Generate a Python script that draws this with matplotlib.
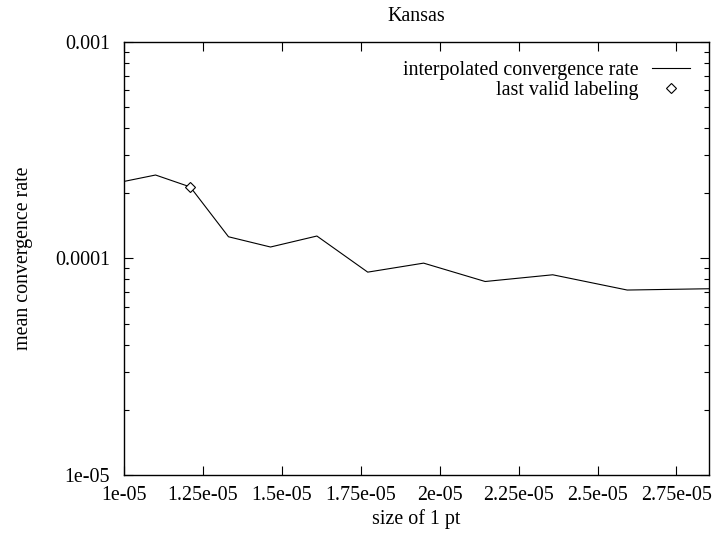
import matplotlib
matplotlib.use("Agg")
import matplotlib.pyplot as plt
from matplotlib.ticker import FixedLocator, FixedFormatter, LogLocator, NullLocator, NullFormatter

# size of one point vs. mean convergence rate
pt_size = [1.000e-05, 1.100e-05, 1.210e-05, 1.331e-05, 1.464e-05, 1.611e-05,
           1.772e-05, 1.949e-05, 2.144e-05, 2.358e-05, 2.594e-05, 2.853e-05]
conv_rate = [2.27e-04, 2.43e-04, 2.14e-04, 1.26e-04, 1.13e-04, 1.27e-04,
             8.65e-05, 9.52e-05, 7.83e-05, 8.41e-05, 7.15e-05, 7.25e-05]

# last valid labeling
last_valid_x = [1.210e-05]
last_valid_y = [2.14e-04]

x_ticks = [1.0e-05, 1.25e-05, 1.5e-05, 1.75e-05, 2.0e-05, 2.25e-05, 2.5e-05, 2.75e-05]
x_tick_labels = ["1e-05", "1.25e-05", "1.5e-05", "1.75e-05", "2e-05", "2.25e-05", "2.5e-05", "2.75e-05"]
y_ticks = [1e-05, 1e-04, 1e-03]
y_tick_labels = ["1e-05", "0.0001", "0.001"]

plt.rcParams["font.family"] = ["Liberation Serif", "DejaVu Serif"]
plt.rcParams["font.size"] = 14.4

fig = plt.figure(figsize=(7.17, 5.35), dpi=100)
ax = fig.add_axes([124 / 717, 1 - 475 / 535, (709 - 124) / 717, (475 - 42) / 535])

ax.plot(pt_size, conv_rate, color="black", lw=0.8, label="interpolated convergence rate")
ax.plot(last_valid_x, last_valid_y, linestyle="none", marker="D", markersize=5,
        markerfacecolor="white", markeredgecolor="black", markeredgewidth=0.8,
        label="last valid labeling")

ax.set_yscale("log")
ax.set_xlim(pt_size[0], pt_size[-1])
ax.set_ylim(1e-05, 1e-03)

ax.xaxis.set_major_locator(FixedLocator(x_ticks))
ax.xaxis.set_major_formatter(FixedFormatter(x_tick_labels))
ax.xaxis.set_minor_locator(NullLocator())
ax.yaxis.set_major_locator(FixedLocator(y_ticks))
ax.yaxis.set_major_formatter(FixedFormatter(y_tick_labels))
ax.yaxis.set_minor_locator(LogLocator(base=10, subs=range(2, 10)))
ax.yaxis.set_minor_formatter(NullFormatter())

ax.tick_params(which="both", direction="in", top=True, right=True, width=0.8, color="black")
ax.tick_params(which="major", length=6.5)
ax.tick_params(which="minor", length=3.5)
ax.tick_params(axis="x", which="major", pad=8)
ax.tick_params(axis="y", which="major", pad=10)
for s in ax.spines.values():
    s.set_linewidth(1.0)

ax.set_title("Kansas", fontsize=14.4, pad=15)
ax.set_xlabel("size of 1 pt", labelpad=3)
ax.set_ylabel("mean convergence rate", labelpad=16)

leg = ax.legend(loc="upper right", frameon=False, markerfirst=False, handlelength=1.9,
                handletextpad=0.7, labelspacing=0.05, borderaxespad=0.2,
                borderpad=0.0, bbox_to_anchor=(0.975, 0.965))
for col in leg._legend_handle_box.get_children():
    col.align = "right"

fig.savefig("out.png", dpi=100)
